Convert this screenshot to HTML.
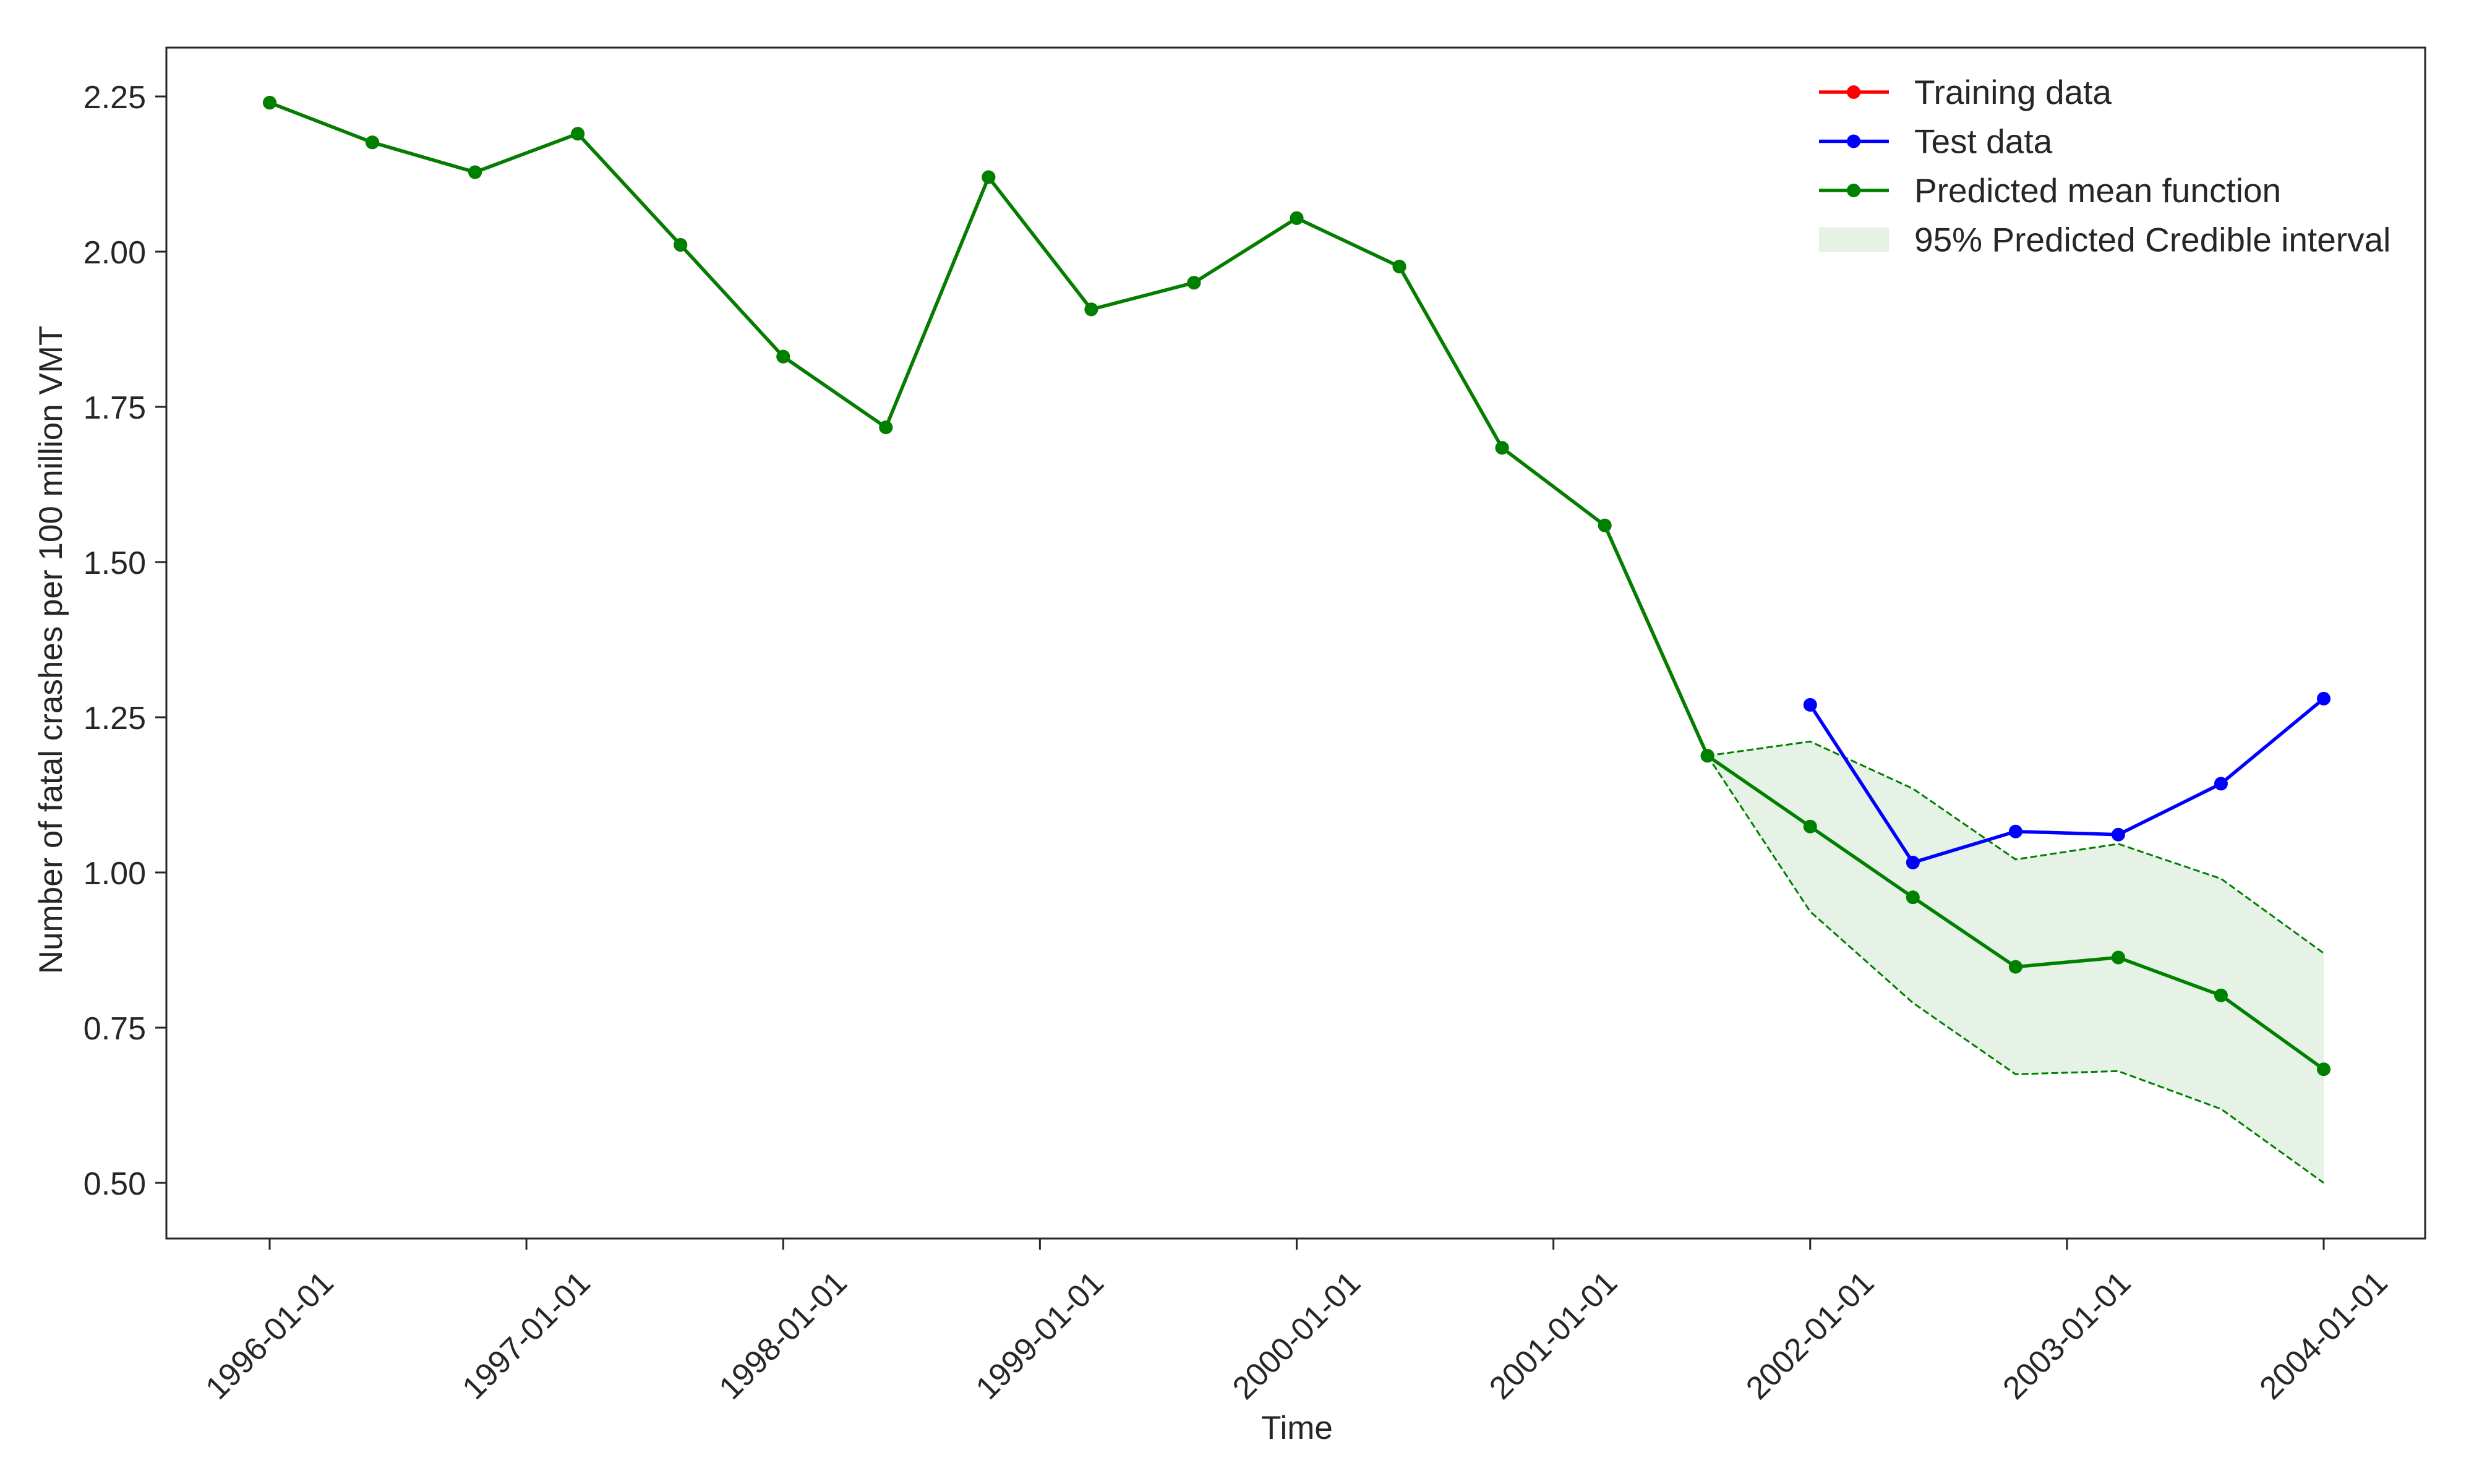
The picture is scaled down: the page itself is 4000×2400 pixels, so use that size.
<!DOCTYPE html>
<html><head><meta charset="utf-8"><style>
html,body{margin:0;padding:0;background:#fff}
svg{display:block;font-family:"Liberation Sans",Arial,sans-serif}
</style></head><body>
<svg id="chart" width="4000" height="2400" viewBox="0 0 4000 2400" xmlns="http://www.w3.org/2000/svg">
<rect width="4000" height="2400" fill="#fff"/>
<g id="plot"></g>
<rect x="269" y="77" width="3652" height="1926" fill="none" stroke="#262626" stroke-width="3"/>
<g id="axes"></g>
<text x="2097" y="2327" font-size="53" text-anchor="middle" fill="#262626">Time</text>
<text transform="translate(100,1051) rotate(-90)" font-size="53" text-anchor="middle" fill="#262626">Number of fatal crashes per 100 million VMT</text>
<g id="legend"></g>
</svg>
<script>
const trainValues=[2.24,2.176,2.128,2.19,2.011,1.831,1.717,2.12,1.907,1.95,2.054,1.976,1.684,1.559,1.188];
const testValues=[1.27,1.016,1.066,1.061,1.143,1.28];
const predMean=[1.188,1.074,0.96,0.848,0.863,0.802,0.683];
const predUpper=[1.188,1.211,1.135,1.021,1.046,0.99,0.87];
const predLower=[1.188,0.937,0.79,0.675,0.68,0.619,0.50];
const xTickLabels=["1996-01-01","1997-01-01","1998-01-01","1999-01-01","2000-01-01","2001-01-01","2002-01-01","2003-01-01","2004-01-01"];
const yTickLabels=["0.50","0.75","1.00","1.25","1.50","1.75","2.00","2.25"];
const legendLabels=["Training data","Test data","Predicted mean function","95% Predicted Credible interval"];

const NS="http://www.w3.org/2000/svg";
function xs(t){return 436+(t-1996)*(3757-436)/8;}
function ys(v){return 1913-(v-0.5)*(1913-156)/1.75;}
function tOf(i){return 1996+0.4*i;}
function mk(tag,attrs,parent){const e=document.createElementNS(NS,tag);for(const k in attrs)e.setAttribute(k,attrs[k]);parent.appendChild(e);return e;}
const plot=document.getElementById('plot'),axes=document.getElementById('axes'),legend=document.getElementById('legend');

const off=trainValues.length-1;
let pts=predUpper.map((v,i)=>xs(tOf(off+i))+','+ys(v));
pts=pts.concat(predLower.map((v,i)=>xs(tOf(off+i))+','+ys(v)).reverse());
const band=mk('polygon',{points:pts.join(' '),fill:'#008000','fill-opacity':0.1,stroke:'none'},plot);


[predUpper,predLower].forEach((arr,k)=>{
  const p=mk('polyline',{points:arr.map((v,i)=>xs(tOf(off+i))+','+ys(v)).join(' '),fill:'none',stroke:'#008000','stroke-width':3,'stroke-dasharray':'11,5'},plot);
  
  
});
function series(vals,start,color,name){
  const l=mk('polyline',{points:vals.map((v,i)=>xs(tOf(start+i))+','+ys(v)).join(' '),fill:'none',stroke:color,'stroke-width':5.5,'stroke-linejoin':'round'},plot);
  
  
  vals.forEach((v,i)=>{
    const c=mk('circle',{cx:xs(tOf(start+i)),cy:ys(v),r:11,fill:color},plot);
    
    
  });
}
series(trainValues,0,'#ff0000','training');
series(testValues,trainValues.length,'#0000ff','test');
series(trainValues,0,'#008000','fitted-mean');
series(predMean,off,'#008000','predicted-mean');

yTickLabels.forEach(s=>{
  const y=ys(parseFloat(s));
  const t=mk('line',{x1:251,x2:269,y1:y,y2:y,stroke:'#262626','stroke-width':3},axes);
  
  
  const tx=mk('text',{x:236,y:y+19,'font-size':52,'text-anchor':'end',fill:'#262626'},axes);
  tx.textContent=s;
  
  
});
xTickLabels.forEach(s=>{
  const x=xs(parseInt(s));
  const t=mk('line',{x1:x,x2:x,y1:2003,y2:2021,stroke:'#262626','stroke-width':3},axes);
  
  
  const tx=mk('text',{x:0,y:0,transform:`translate(${x},2160) rotate(-45)`,'font-size':52,'text-anchor':'middle','dominant-baseline':'central',fill:'#262626'},axes);
  tx.textContent=s;
  
  
});

const lcol=['#ff0000','#0000ff','#008000'];
legendLabels.forEach((s,i)=>{
  const y=149+i*79.5;
  const g=mk('g',{},legend);
  
  
  if(i<3){
    mk('line',{x1:2941,x2:3054,y1:y,y2:y,stroke:lcol[i],'stroke-width':5.5},g);
    mk('circle',{cx:2997,cy:y,r:11,fill:lcol[i]},g);
  } else {
    mk('rect',{x:2941,y:y-20,width:113,height:40,fill:'#008000','fill-opacity':0.1},g);
  }
  const tx=mk('text',{x:3095,y:y+19,'font-size':55,fill:'#262626'},g);
  tx.textContent=s;
});
</script>
</body></html>
